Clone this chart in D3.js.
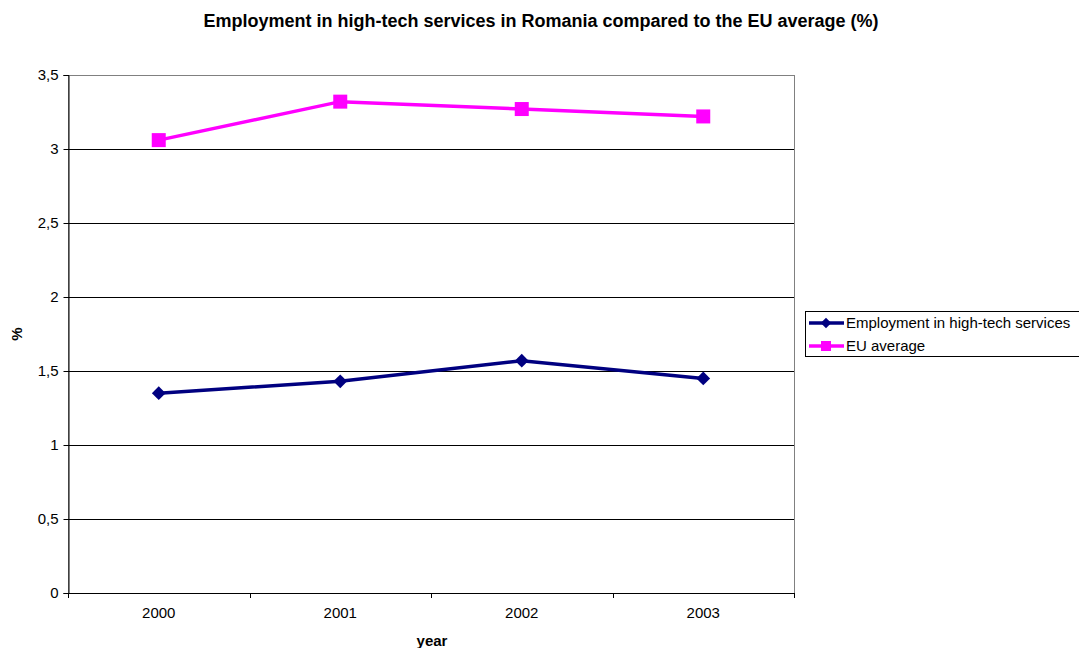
<!DOCTYPE html>
<html>
<head>
<meta charset="utf-8">
<script src="https://cdn.jsdelivr.net/npm/d3@7"></script>
<style>
  body { margin: 0; background: #fff; }
  text { font-family: "Liberation Sans", Arial, sans-serif; }
</style>
</head>
<body>
<script>
var years = ["2000", "2001", "2002", "2003"];
var employment = [1.35, 1.43, 1.57, 1.45];
var euAverage = [3.06, 3.32, 3.27, 3.22];
var yTicks = [0, 0.5, 1, 1.5, 2, 2.5, 3, 3.5];
var seriesNames = ["Employment in high-tech services", "EU average"];

var width = 1079, height = 648;
var plotL = 68, plotR = 794, plotT = 75, plotB = 593;

var svg = d3.select("body").append("svg")
    .attr("width", width)
    .attr("height", height);

var x = d3.scaleBand().domain(years).range([plotL, plotR]);
var y = d3.scaleLinear().domain([0, 3.5]).range([plotB, plotT]);
var fmt = function(d) { return String(d).replace(".", ","); };
var cx = function(i) { return x(years[i]) + x.bandwidth() / 2; };

// plot frame (grey)
svg.append("rect")
    .attr("x", plotL + 0.5).attr("y", plotT + 0.5)
    .attr("width", plotR - plotL).attr("height", plotB - plotT)
    .attr("fill", "none").attr("stroke", "#808080").attr("stroke-width", 1);

// gridlines
svg.selectAll(".grid")
    .data(yTicks.slice(1, -1))
  .enter().append("line")
    .attr("x1", plotL).attr("x2", plotR)
    .attr("y1", function(d) { return Math.round(y(d)) + 0.5; })
    .attr("y2", function(d) { return Math.round(y(d)) + 0.5; })
    .attr("stroke", "#000");

// y axis
var yAxis = svg.append("g")
    .attr("transform", "translate(" + (plotL + 0.5) + ",0)")
    .call(d3.axisLeft(y).tickValues(yTicks).tickFormat(fmt).tickSizeOuter(0).tickSize(5).tickPadding(5));
yAxis.select(".domain").attr("stroke", "#000");
yAxis.selectAll("line").attr("stroke", "#000");
yAxis.selectAll("text").attr("font-size", 15).attr("fill", "#000")
    .style("font-family", "'Liberation Sans', Arial, sans-serif");

// x axis
var xAxis = svg.append("g")
    .attr("transform", "translate(0," + plotB + ")");
xAxis.append("line")
    .attr("x1", plotL).attr("x2", plotR).attr("y1", 0.5).attr("y2", 0.5)
    .attr("stroke", "#000");
xAxis.selectAll(".tick")
    .data(years.concat(["end"]))
  .enter().append("line")
    .attr("x1", function(d, i) { return Math.round(plotL + i * x.step()) + 0.5; })
    .attr("x2", function(d, i) { return Math.round(plotL + i * x.step()) + 0.5; })
    .attr("y1", 0).attr("y2", 5)
    .attr("stroke", "#000");
xAxis.selectAll(".lbl")
    .data(years)
  .enter().append("text")
    .attr("x", function(d, i) { return cx(i); })
    .attr("y", 25)
    .attr("text-anchor", "middle")
    .attr("font-size", 15)
    .text(function(d) { return d; });

// lines
var line = d3.line()
    .x(function(d, i) { return cx(i); })
    .y(function(d) { return y(d); });

svg.append("path").datum(employment)
    .attr("d", line).attr("fill", "none")
    .attr("stroke", "#000080").attr("stroke-width", 3.5);
svg.append("path").datum(euAverage)
    .attr("d", line).attr("fill", "none")
    .attr("stroke", "#ff00ff").attr("stroke-width", 3.5);

svg.selectAll(".diamond")
    .data(employment)
  .enter().append("path")
    .attr("d", d3.symbol().type(d3.symbolDiamond2).size(120))
    .attr("transform", function(d, i) {
      return "translate(" + cx(i) + "," + y(d) + ")";
    })
    .attr("fill", "#000080");

svg.selectAll(".square")
    .data(euAverage)
  .enter().append("rect")
    .attr("x", function(d, i) { return cx(i) - 7; })
    .attr("y", function(d) { return y(d) - 7; })
    .attr("width", 14).attr("height", 14)
    .attr("fill", "#ff00ff");

// title
svg.append("text")
    .attr("x", 541).attr("y", 27)
    .attr("text-anchor", "middle")
    .attr("font-size", 18).attr("font-weight", "bold")
    .text("Employment in high-tech services in Romania compared to the EU average (%)");

// axis titles
svg.append("text")
    .attr("x", 432).attr("y", 646)
    .attr("text-anchor", "middle")
    .attr("font-size", 15).attr("font-weight", "bold")
    .text("year");
svg.append("text")
    .attr("transform", "translate(22,334) rotate(-90)")
    .attr("text-anchor", "middle")
    .attr("font-size", 15).attr("font-weight", "bold")
    .text("%");

// legend
var lg = svg.append("g");
lg.append("rect")
    .attr("x", 805.5).attr("y", 311.5)
    .attr("width", 290).attr("height", 45)
    .attr("fill", "#fff").attr("stroke", "#000");
var colors = ["#000080", "#ff00ff"];
seriesNames.forEach(function(name, i) {
  var ly = 323 + i * 23;
  lg.append("line")
    .attr("x1", 809).attr("x2", 844).attr("y1", ly).attr("y2", ly)
    .attr("stroke", colors[i]).attr("stroke-width", 3.5);
  if (i === 0) {
    lg.append("path")
      .attr("d", d3.symbol().type(d3.symbolDiamond2).size(70))
      .attr("transform", "translate(826," + ly + ")")
      .attr("fill", colors[i]);
  } else {
    lg.append("rect")
      .attr("x", 821).attr("y", ly - 5).attr("width", 10).attr("height", 10)
      .attr("fill", colors[i]);
  }
  lg.append("text")
    .attr("x", 846).attr("y", ly + 5)
    .attr("font-size", 15)
    .text(name);
});
</script>
</body>
</html>
